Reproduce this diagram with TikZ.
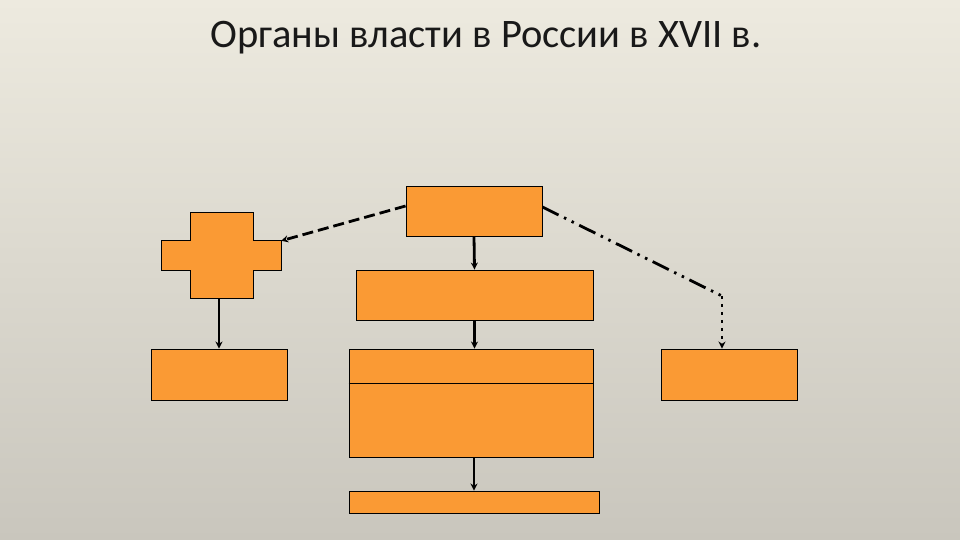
\documentclass[tikz,border=0pt]{standalone}
\usepackage{fontspec}
\setmainfont{Carlito}
\usetikzlibrary{arrows.meta}
\definecolor{fon1}{RGB}{237,234,223}
\definecolor{fon2}{RGB}{201,198,189}
\definecolor{oranzh}{RGB}{250,154,52}
\begin{document}
\begin{tikzpicture}[x=1pt, y=1pt, >={Stealth[length=7pt,width=7pt]},
    blok/.style={draw, fill=oranzh, line width=0.9pt, inner sep=0pt},
    polosa/.style={fill=oranzh, inner sep=0pt},
    strelka/.style={->, line width=2.8pt}]
    \shade[top color=fon1, bottom color=fon2] (0,0) rectangle (960,540);
    \node[text=black!90, anchor=base, font=\fontsize{40.5}{46}\selectfont] (zag) at (486,492) {Органы власти в России в XVII в.};
    \node[blok, minimum width=136, minimum height=50] (car) at (474,329) {};
    \node[blok, minimum width=237, minimum height=50] (duma) at (474.5,245) {};
    \node[blok, minimum width=244, minimum height=108] (prikazy) at (471,137) {};
    \node[blok, minimum width=250, minimum height=22] (mesta) at (474,38) {};
    \node[blok, minimum width=136, minimum height=51] (levyj) at (219,165.5) {};
    \node[blok, minimum width=136, minimum height=51] (pravyj) at (729,165.5) {};
    \node[polosa, minimum width=119, minimum height=29] (krestH) at (221.5,284.5) {};
    \node[polosa, minimum width=62, minimum height=85] (krestV) at (222,284.5) {};
    \draw[line width=0.9pt] (krestV.north west) -- (krestV.north east) -- (krestV.east |- krestH.north)
        -- (krestH.north east) -- (krestH.south east) -- (krestV.east |- krestH.south)
        -- (krestV.south east) -- (krestV.south west) -- (krestV.west |- krestH.south)
        -- (krestH.south west) -- (krestH.north west) -- (krestV.west |- krestH.north) -- cycle;
    \draw[line width=0.9pt] (prikazy.west |- 0,157) -- (prikazy.east |- 0,157);
    \coordinate (povorot) at (722,244);
    \draw[strelka] (car.south) -- (duma.north);
    \draw[strelka] (duma.south) -- (duma.south |- prikazy.north);
    \draw[strelka] (mesta.north |- prikazy.south) -- (mesta.north);
    \draw[strelka] (krestV.south -| levyj.north) -- (levyj.north);
    \draw[strelka, dash pattern=on 11pt off 5pt] ([yshift=5]car.west) -- (krestH.north east);
    \draw[line width=2.8pt, dash pattern=on 18pt off 6pt on 2.5pt off 6pt on 2.5pt off 6pt] ([yshift=4]car.east) -- (povorot);
    \draw[strelka, dash pattern=on 3pt off 5pt] (povorot) -- (povorot |- pravyj.north);
\end{tikzpicture}
\end{document}
